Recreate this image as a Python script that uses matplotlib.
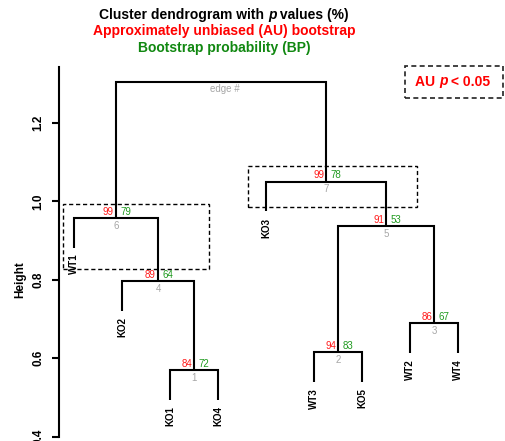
import matplotlib
matplotlib.use("Agg")
import matplotlib.pyplot as plt
from matplotlib.patches import Rectangle

plt.rcParams['font.family'] = ['Liberation Sans', 'DejaVu Sans']

# leaves in plotting order
leaves = ["WT1", "KO2", "KO1", "KO4", "KO3", "WT3", "KO5", "WT2", "WT4"]

# merges: children are leaf names or earlier merge numbers (1-based)
merge_left = ["KO1", "WT3", "WT2", "KO2", 2, "WT1", "KO3", 6]
merge_right = ["KO4", "KO5", "WT4", 1, 3, 4, 5, 7]
heights = [0.569, 0.616, 0.689, 0.797, 0.9375, 0.958, 1.0505, 1.3056]
au = [84, 94, 86, 89, 91, 99, 99]
bp = [72, 83, 67, 64, 53, 79, 78]

hang = 0.0755
yticks = [0.4, 0.6, 0.8, 1.0, 1.2]

RED = "#ff1a1a"
GREEN = "#1f9a1f"
GRAY = "#a6a6a6"

fig = plt.figure(figsize=(5.05, 4.41), dpi=100)
W, H = 505, 441
ax = fig.add_axes([58.6 / W, 1 - 436.7 / H, (473.7 - 58.6) / W, (436.7 - 67.3) / H])
ax.set_xlim(0.68, 9.32)
ax.set_ylim(0.4, 1.3423)

leaf_x = {name: i + 1 for i, name in enumerate(leaves)}
node_x = []


def child_pos(c, parent_h):
    if isinstance(c, str):
        return leaf_x[c], parent_h - hang, True
    return node_x[c - 1], heights[c - 1], False


for i in range(len(heights)):
    h = heights[i]
    xl, yl, lleaf = child_pos(merge_left[i], h)
    xr, yr, rleaf = child_pos(merge_right[i], h)
    ax.plot([xl, xl, xr, xr], [yl, h, h, yr], color="black", lw=1.5,
            solid_joinstyle="miter", solid_capstyle="butt")
    xm = (xl + xr) / 2
    node_x.append(xm)
    for name, leaf, x, y in [(merge_left[i], lleaf, xl, yl), (merge_right[i], rleaf, xr, yr)]:
        if leaf:
            ax.annotate(name, (x, y), xytext=(0, -4.5), textcoords="offset points",
                        rotation=90, ha="center", va="top", fontsize=7,
                        fontweight="bold")
    if i < len(au):
        ax.annotate(str(au[i]), (xm, h), xytext=(-1.5, 1), textcoords="offset points",
                    ha="right", va="bottom", fontsize=7, color=RED)
        ax.annotate(str(bp[i]), (xm, h), xytext=(3, 1), textcoords="offset points",
                    ha="left", va="bottom", fontsize=7, color=GREEN)
        ax.annotate(str(i + 1), (xm, h), xytext=(0, -2), textcoords="offset points",
                    ha="center", va="top", fontsize=7, color=GRAY)
    else:
        ax.annotate("edge #", (xm + 0.08, h), xytext=(0, -2), textcoords="offset points",
                    ha="center", va="top", fontsize=7, color=GRAY)

# highlighted clusters
for x0, x1, y0, y1 in [(0.777, 3.82, 0.827, 0.9929), (4.625, 8.14, 0.9852, 1.0906)]:
    ax.add_patch(Rectangle((x0, y0), x1 - x0, y1 - y0, fill=False, lw=1,
                           ls=(0, (3, 2)), ec="black"))

for s in ["top", "right", "bottom"]:
    ax.spines[s].set_visible(False)
ax.spines["left"].set_linewidth(1.5)
ax.set_xticks([])
ax.set_yticks(yticks)
ax.set_yticklabels([f"{t:.1f}" for t in yticks], rotation=90, va="center",
                   fontsize=8.5, fontweight="bold")
ax.tick_params(axis="y", length=5, width=1.5, pad=5)

fig.text(20 / W, 1 - 280 / H, "Height", rotation=90, ha="center", va="center",
         fontsize=8.5, fontweight="bold")


def rich_line(xc, yb, parts, color, size):
    r = fig.canvas.get_renderer()
    objs = []
    for s, st in parts:
        t = fig.text(0, yb, s, fontsize=size, fontweight="bold", style=st,
                     color=color, va="baseline", ha="left")
        objs.append(t)
    widths = [t.get_window_extent(r).width for t in objs]
    x = xc * W - sum(widths) / 2
    for t, w in zip(objs, widths):
        t.set_x(x / W)
        x += w


rich_line(224 / W, 1 - 19 / H,
          [("Cluster dendrogram with\u00a0", "normal"), ("p", "italic"),
           ("\u00a0values (%)", "normal")], "black", 10)
fig.text(224 / W, 1 - 35.5 / H, "Approximately unbiased (AU) bootstrap", ha="center",
         va="baseline", fontsize=10, fontweight="bold", color="#ff0000")
fig.text(224 / W, 1 - 52 / H, "Bootstrap probability (BP)", ha="center",
         va="baseline", fontsize=10, fontweight="bold", color="#118811")

# legend box
fig.patches.append(Rectangle((405 / W, 1 - 97.7 / H), 98.3 / W, 32 / H, fill=False,
                             lw=1.2, ls=(0, (3, 2)), ec="#222222",
                             transform=fig.transFigure, figure=fig))
rich_line(452.7 / W, 1 - 85.5 / H,
          [("AU\u00a0", "normal"), ("p", "italic"), ("\u00a0< 0.05", "normal")],
          "#ff0000", 10)

fig.savefig("out.png", dpi=100)
